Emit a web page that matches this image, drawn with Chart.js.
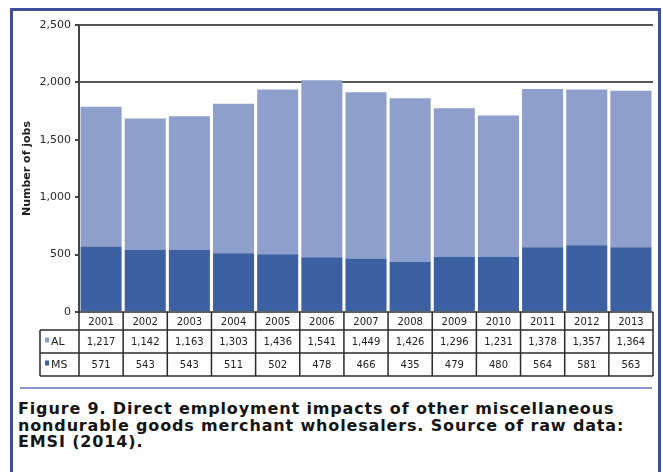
<!DOCTYPE html>
<html>
<head>
<meta charset="utf-8">
<title>Direct employment impacts</title>
<script src="https://cdn.jsdelivr.net/npm/chart.js@4.4.0/dist/chart.umd.min.js"></script>
<style>
  html, body { margin: 0; padding: 0; background: #fff; }
  #page { position: relative; width: 663px; height: 472px; overflow: hidden; }
  #frame { position: absolute; left: 10px; top: 8px; width: 645px; height: 480px; border: 3px solid #3f4f9c; }
  #chart { position: absolute; left: 0; top: 0; }
  #rule { position: absolute; left: 20px; top: 387px; width: 632px; height: 2px; background: #8c95c8; }
  #caption { position: absolute; left: 18px; top: 401px; font: bold 16px "DejaVu Sans", sans-serif; letter-spacing: 0.85px; line-height: 16.5px; color: #151515; white-space: nowrap; }
</style>
</head>
<body>
<div id="page">
  <div id="frame"></div>
  <canvas id="chart" width="663" height="380"></canvas>
  <div id="rule"></div>
  <div id="caption">Figure 9. Direct employment impacts of other miscellaneous<br>nondurable goods merchant wholesalers. Source of raw data:<br>EMSI (2014).</div>
</div>
<script>
// years and job counts per series
const years = ['2001', '2002', '2003', '2004', '2005', '2006', '2007', '2008', '2009', '2010', '2011', '2012', '2013'];
const alJobs = [1217, 1142, 1163, 1303, 1436, 1541, 1449, 1426, 1296, 1231, 1378, 1357, 1364];
const msJobs = [571, 543, 543, 511, 502, 478, 466, 435, 479, 480, 564, 581, 563];
const yTicks = [0, 500, 1000, 1500, 2000, 2500];

const AL_COLOR = '#8e9fcc';
const MS_COLOR = '#3c61a2';
const LINE = '#2b2b2b';

const fmt = v => v.toLocaleString('en-US');

// data table under the plot, columns follow the x scale
const dataTable = {
    id: 'dataTable',
    afterDraw(chart) {
        const { ctx, chartArea } = chart;
        const x = chart.scales.x;
        const colW = (chartArea.right - chartArea.left) / years.length;
        const top = chartArea.bottom;
        const rows = [top, top + 18, top + 41, top + 64];
        const headLeft = 40;

        ctx.save();
        ctx.strokeStyle = LINE;
        ctx.lineWidth = 1.5;
        ctx.beginPath();
        ctx.moveTo(chartArea.left, rows[0]);
        ctx.lineTo(chartArea.right, rows[0]);
        for (let r = 1; r < rows.length; r++) {
            ctx.moveTo(headLeft, rows[r]);
            ctx.lineTo(chartArea.right, rows[r]);
        }
        ctx.moveTo(headLeft, rows[1]);
        ctx.lineTo(headLeft, rows[3]);
        for (let i = 0; i <= years.length; i++) {
            const px = chartArea.left + i * colW;
            ctx.moveTo(px, rows[0]);
            ctx.lineTo(px, rows[3]);
        }
        ctx.stroke();

        ctx.fillStyle = '#222';
        ctx.font = '10px "DejaVu Sans"';
        ctx.textAlign = 'center';
        ctx.textBaseline = 'middle';
        years.forEach((yr, i) => {
            const cx = x.getPixelForValue(i);
            ctx.fillText(yr, cx, (rows[0] + rows[1]) / 2 + 1);
            ctx.fillText(fmt(alJobs[i]), cx, (rows[1] + rows[2]) / 2 + 1);
            ctx.fillText(fmt(msJobs[i]), cx, (rows[2] + rows[3]) / 2 + 1);
        });

        // row headers with colour keys
        const heads = [['AL', AL_COLOR, rows[1], rows[2]], ['MS', MS_COLOR, rows[2], rows[3]]];
        ctx.textAlign = 'left';
        ctx.font = '11px "DejaVu Sans"';
        heads.forEach(([name, color, a, b]) => {
            const mid = (a + b) / 2;
            ctx.fillStyle = color;
            ctx.fillRect(45, mid - 4, 4, 5);
            ctx.fillStyle = '#222';
            ctx.fillText(name, 51, mid + 1);
        });
        ctx.restore();
    }
};

new Chart(document.getElementById('chart'), {
    type: 'bar',
    data: {
        labels: years,
        datasets: [
            { label: 'MS', data: msJobs, backgroundColor: MS_COLOR, borderWidth: 0 },
            { label: 'AL', data: alJobs, backgroundColor: AL_COLOR, borderWidth: 0 }
        ]
    },
    options: {
        responsive: false,
        animation: false,
        layout: { padding: { top: 25, right: 10, bottom: 4, left: 0 } },
        datasets: { bar: { barPercentage: 0.93, categoryPercentage: 1 } },
        plugins: { legend: { display: false }, tooltip: { enabled: false } },
        scales: {
            x: {
                stacked: true,
                grid: { display: false },
                border: { display: false },
                ticks: { display: false },
                afterFit: s => { s.height = 64; }
            },
            y: {
                stacked: true,
                min: 0,
                max: 2500,
                afterFit: s => { s.width = 79; },
                afterBuildTicks: s => { s.ticks = yTicks.map(v => ({ value: v })); },
                ticks: {
                    padding: 4,
                    color: '#2a2a2a',
                    font: { family: 'DejaVu Sans', size: 11 },
                    callback: v => fmt(v)
                },
                grid: {
                    // only the lines above the bars show
                    color: c => (c.tick && c.tick.value >= 2000 ? '#555' : 'rgba(0,0,0,0)'),
                    lineWidth: 2,
                    tickLength: 4,
                    tickColor: '#444'
                },
                border: { display: true, color: '#444', width: 2 },
                title: {
                    display: true,
                    text: 'Number of jobs',
                    color: '#1e1e1e',
                    padding: { top: 21, bottom: 0 },
                    font: { family: 'DejaVu Sans', size: 11, weight: 'bold' }
                }
            }
        }
    },
    plugins: [dataTable]
});
</script>
</body>
</html>
